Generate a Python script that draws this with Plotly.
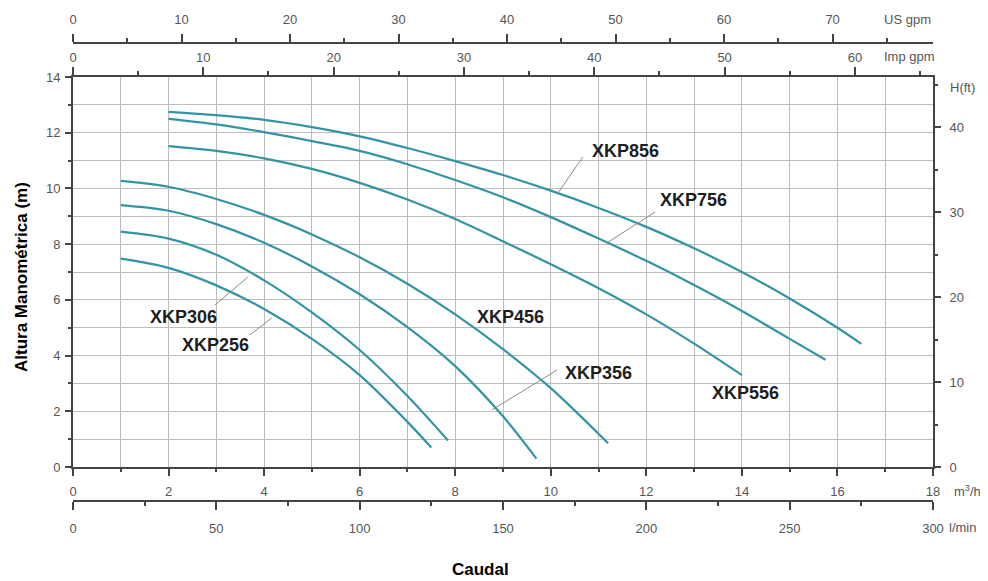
import plotly.graph_objects as go

# ---------------- data (flow in m3/h, head in m) ----------------
xkp856_q = [2, 3, 4, 5, 6, 7, 8, 9, 10, 11, 12, 13, 14, 15, 16, 16.5]
xkp856_h = [12.75, 12.63, 12.46, 12.2, 11.87, 11.45, 10.98, 10.48, 9.92, 9.3, 8.62, 7.85, 7.0, 6.05, 5.0, 4.42]

xkp756_q = [2, 3, 4, 5, 6, 7, 8, 9, 10, 11, 12, 13, 14, 15, 15.75]
xkp756_h = [12.5, 12.3, 12.02, 11.7, 11.35, 10.87, 10.3, 9.68, 8.97, 8.2, 7.4, 6.53, 5.6, 4.6, 3.85]

xkp556_q = [2, 3, 4, 5, 6, 7, 8, 9, 10, 11, 12, 13, 14]
xkp556_h = [11.52, 11.35, 11.08, 10.7, 10.2, 9.6, 8.9, 8.1, 7.28, 6.42, 5.48, 4.43, 3.3]

xkp456_q = [1, 2, 3, 4, 5, 6, 7, 8, 9, 10, 11.2]
xkp456_h = [10.27, 10.06, 9.62, 9.05, 8.35, 7.53, 6.58, 5.48, 4.23, 2.83, 0.85]

xkp356_q = [1, 2, 3, 4, 5, 6, 7, 8, 9, 9.7]
xkp356_h = [9.4, 9.2, 8.72, 8.05, 7.2, 6.2, 5.02, 3.62, 1.82, 0.3]

xkp306_q = [1, 2, 3, 4, 5, 6, 7, 7.85]
xkp306_h = [8.45, 8.2, 7.62, 6.7, 5.55, 4.2, 2.55, 0.95]

xkp256_q = [1, 2, 3, 4, 5, 6, 7, 7.5]
xkp256_h = [7.48, 7.15, 6.52, 5.67, 4.6, 3.3, 1.62, 0.7]

models = ["XKP856", "XKP756", "XKP556", "XKP456", "XKP356", "XKP306", "XKP256"]
flows = [xkp856_q, xkp756_q, xkp556_q, xkp456_q, xkp356_q, xkp306_q, xkp256_q]
heads = [xkp856_h, xkp756_h, xkp556_h, xkp456_h, xkp356_h, xkp306_h, xkp256_h]

# label anchor (left edge, middle) in data units
label_q = [10.82, 12.24, 13.33, 8.41, 10.25, 1.57, 2.24]
label_h = [11.34, 9.58, 2.66, 5.38, 3.37, 5.38, 4.38]
# leader lines (from near label to curve)
leaders = {
    "XKP856": (10.67, 11.13, 10.15, 9.83),
    "XKP756": (12.18, 9.15, 11.17, 8.04),
    "XKP356": (10.13, 3.48, 8.77, 2.05),
    "XKP306": (2.97, 5.81, 3.66, 6.82),
    "XKP256": (3.70, 4.74, 4.16, 5.35),
}

flow_max = 18
head_max = 14
M3H_TO_USGPM = 4.40287
M3H_TO_IMPGPM = 3.66615
M3H_TO_LMIN = 1000 / 60
M_TO_FT = 1 / 0.3048

# ---------------- layout geometry (page pixels) ----------------
OFF = 8                    # page body margin
W, H = 988 - OFF, 581 - OFF
L, R = 73, 933             # plot left / right (page px)
PT, PB = 77, 467           # plot top / bottom (page px)
TOP_AX, BOT_AX = 43, 501   # free axes (page px)
ml, mr = L - OFF, W - (R - OFF)
mt, mb = TOP_AX - OFF, H - (BOT_AX - OFF)
ph = H - mt - mb


def fy(py):
    return (H - mb - (py - OFF)) / ph


def fx(px):
    return (px - L) / (R - L)


FONT = "Liberation Sans, Arial, sans-serif"
TICKC = "#555555"
AXC = "#444444"
GRIDC = "#bdbdbd"
CURVE = "#3394a6"
tickfont = dict(family=FONT, size=13, color=TICKC)

fig = go.Figure()
for name, q, h in zip(models, flows, heads):
    fig.add_trace(go.Scatter(x=q, y=h, mode="lines", name=name,
                             line=dict(color=CURVE, width=2.2, shape="spline", smoothing=0.9),
                             hoverinfo="skip", showlegend=False))

# empty traces so that secondary axes are drawn
for xa, ya in [("x2", "y"), ("x3", "y"), ("x4", "y"), ("x", "y2")]:
    fig.add_trace(go.Scatter(x=[], y=[], xaxis=xa, yaxis=ya, showlegend=False, hoverinfo="skip"))

common = dict(showline=True, linecolor=AXC, linewidth=2, ticks="outside",
              tickcolor=AXC, tickwidth=1.5, tickfont=tickfont, zeroline=False,
              automargin=False)

fig.update_layout(
    width=W, height=H,
    margin=dict(l=ml, r=mr, t=mt, b=mb, autoexpand=False),
    paper_bgcolor="white", plot_bgcolor="white",
    showlegend=False,
    xaxis=dict(domain=[0, 1], range=[0, flow_max], anchor="y", dtick=2, tick0=0,
               ticklen=7, ticklabelstandoff=4, showgrid=True, gridcolor=GRIDC, gridwidth=1,
               minor=dict(dtick=1, ticks="outside", ticklen=3, tickcolor=AXC,
                          showgrid=True, gridcolor=GRIDC, gridwidth=1),
               **common),
    yaxis=dict(domain=[fy(PB), fy(PT)], range=[0, head_max], anchor="x", dtick=2, tick0=0,
               ticklen=6, ticklabelstandoff=2, showgrid=True, gridcolor=GRIDC, gridwidth=1,
               minor=dict(dtick=1, ticks="outside", ticklen=3, tickcolor=AXC,
                          showgrid=True, gridcolor=GRIDC, gridwidth=1),
               **common),
    xaxis2=dict(overlaying="x", anchor="free", position=0, side="bottom",
                range=[0, flow_max * M3H_TO_LMIN], dtick=50, tick0=0, ticklen=8,
                ticklabelstandoff=7,
                showgrid=False, minor=dict(dtick=25, ticks="outside", ticklen=4, tickcolor=AXC),
                **common),
    xaxis3=dict(overlaying="x", anchor="free", position=1, side="top",
                range=[0, flow_max * M3H_TO_USGPM], dtick=10, tick0=0, ticklen=8,
                ticklabelstandoff=5,
                showgrid=False, minor=dict(dtick=5, ticks="outside", ticklen=4, tickcolor=AXC),
                **common),
    xaxis4=dict(overlaying="x", anchor="y", side="top",
                range=[0, flow_max * M3H_TO_IMPGPM], dtick=10, tick0=0, ticklen=8,
                showgrid=False, minor=dict(dtick=5, ticks="outside", ticklen=4, tickcolor=AXC),
                **common),
    yaxis2=dict(overlaying="y", anchor="x", side="right",
                range=[0, head_max * M_TO_FT], dtick=10, tick0=0, ticklen=6,
                ticklabelstandoff=6,
                showgrid=False, minor=dict(dtick=5, ticks="outside", ticklen=3, tickcolor=AXC),
                **common),
)

annotations = []
for name, lq, lh in zip(models, label_q, label_h):
    annotations.append(dict(x=lq, y=lh, xref="x", yref="y", text="<b>%s</b>" % name,
                            showarrow=False, xanchor="left", yanchor="middle",
                            font=dict(family=FONT, size=18, color="#1e1e1e")))
shapes = []
for name, (x0, y0, x1, y1) in leaders.items():
    shapes.append(dict(type="line", xref="x", yref="y", x0=x0, y0=y0, x1=x1, y1=y1,
                       line=dict(color="#8a8a8a", width=1)))

units = [("US gpm", 882, 19), ("Imp gpm", 882, 57), ("H(ft)", 948, 87),
         ("m<sup>3</sup>/h", 952, 491), ("l/min", 947, 527)]
for txt, px, py in units:
    annotations.append(dict(x=fx(px), y=fy(py), xref="paper", yref="paper", text=txt,
                            showarrow=False, xanchor="left", yanchor="middle",
                            font=dict(family=FONT, size=13, color=TICKC)))

annotations.append(dict(x=fx(480), y=fy(569), xref="paper", yref="paper", text="<b>Caudal</b>",
                        showarrow=False, xanchor="center", yanchor="middle",
                        font=dict(family=FONT, size=17, color="black")))
annotations.append(dict(x=fx(21), y=fy(277), xref="paper", yref="paper",
                        text="<b>Altura Manométrica (m)</b>", textangle=-90,
                        showarrow=False, xanchor="center", yanchor="middle",
                        font=dict(family=FONT, size=17, color="black")))

fig.update_layout(annotations=annotations, shapes=shapes)
fig.write_html("out.html")
